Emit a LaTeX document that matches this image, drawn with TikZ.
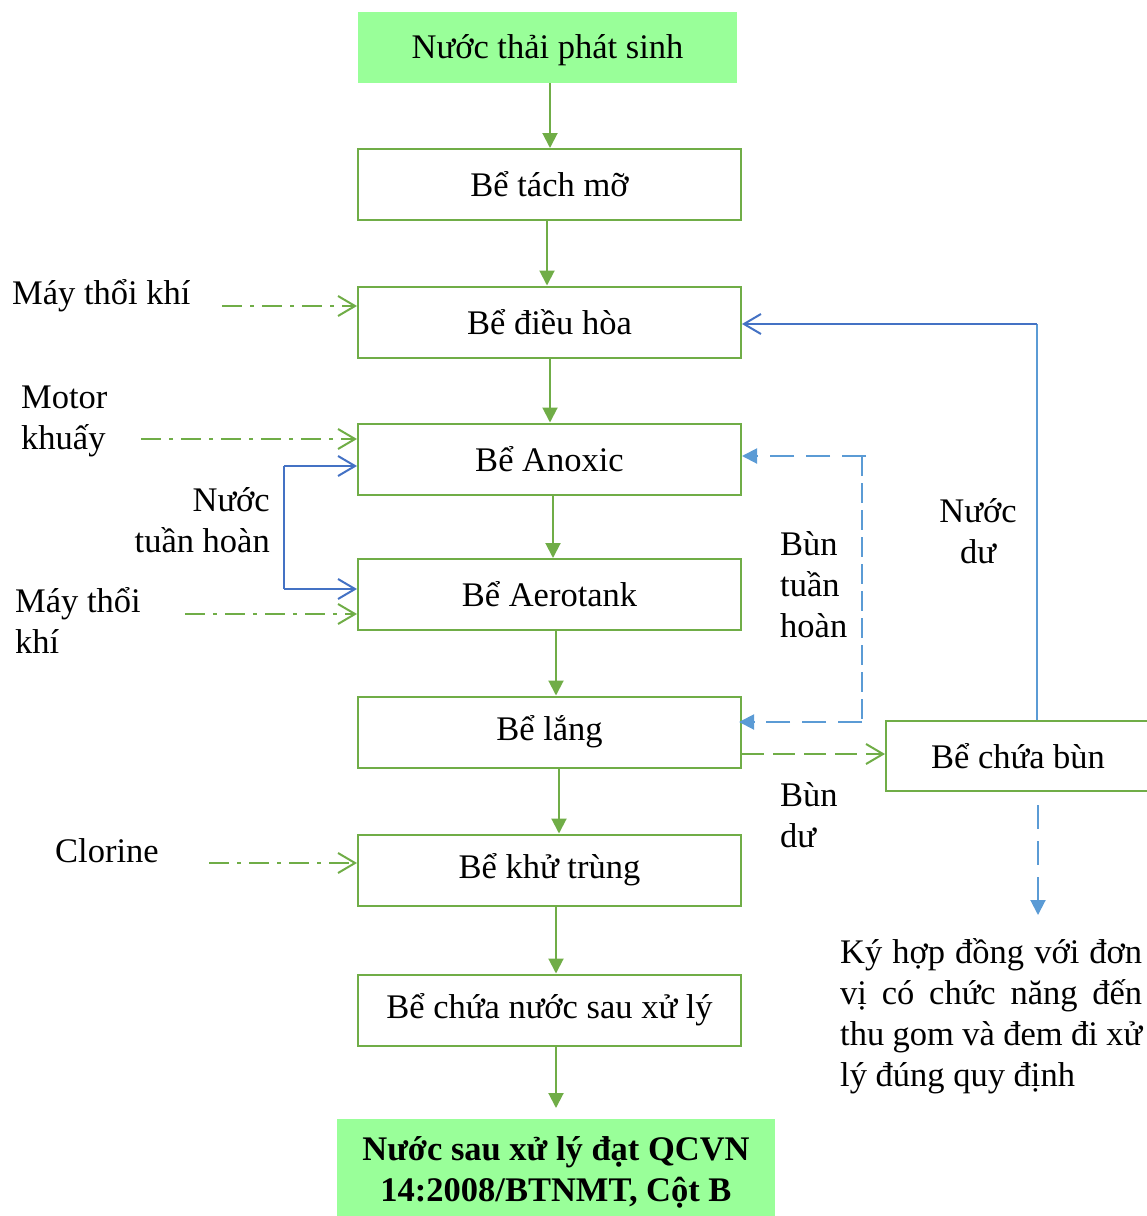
\documentclass[tikz,border=0pt]{standalone}
\usepackage{fontspec}
\setmainfont{Liberation Serif}
\usetikzlibrary{arrows.meta}
\definecolor{gr}{HTML}{70AD47}
\definecolor{lg}{HTML}{99FF99}
\definecolor{bl}{HTML}{4472C4}
\definecolor{lb}{HTML}{5B9BD5}
\begin{document}
\begin{tikzpicture}[x=1pt,y=-1pt,
  font=\fontsize{34.5}{41}\selectfont,
  box/.style={draw=gr,line width=2pt,minimum width=383pt,minimum height=71pt,inner sep=0pt},
  fillbox/.style={fill=lg,inner sep=0pt},
  lbl/.style={inner sep=0pt,align=left},
  flow/.style={draw=gr,line width=2pt,-{Triangle[length=15pt,width=15pt]}},
  feed/.style={draw=gr,line width=2pt,dash pattern=on 20pt off 8pt on 4pt off 8pt,-{Straight Barb[length=17pt,width=20pt,line width=2pt]}},
  recyc/.style={draw=bl,line width=2pt},
  recycarrow/.style={recyc,-{Straight Barb[length=17pt,width=20pt,line width=2pt]}},
  sludge/.style={draw=lb,line width=2pt,dash pattern=on 24pt off 12pt},
  sludgearrow/.style={sludge,-{Triangle[length=15pt,width=15pt]}},
]
\useasboundingbox (0,0) rectangle (1147,1216);

% boxes
\node[fillbox,minimum width=379pt,minimum height=71pt] (src) at (547.5,47.5) {};
\node[inner sep=0pt] (srctxt) at (547.5,50) {Nước thải phát sinh};
\node[box] (tach) at (549.5,184.5) {Bể tách mỡ};
\node[box] (dieuhoa) at (549.5,322) {Bể điều hòa};
\node[box] (anoxic) at (549.5,459) {Bể Anoxic};
\node[box] (aero) at (549.5,594.5) {Bể Aerotank};
\node[box] (lang) at (549.5,732) {Bể lắng};
\node[box] (khu) at (549.5,870) {Bể khử trùng};
\node[box] (chua) at (549.5,1010) {Bể chứa nước sau xử lý};
\node[fillbox,minimum width=438pt,minimum height=97pt] (out) at (556,1167.5) {};
\node[inner sep=0pt,align=center,font=\fontsize{34.5}{41}\selectfont\bfseries] (outtxt) at (556,1172) {Nước sau xử lý đạt QCVN\\14:2008/BTNMT, Cột B};
\node[box,minimum width=264pt,minimum height=70pt] (bun) at (1018,756) {Bể chứa bùn};

% labels
\node[lbl,anchor=west] (l1) at (12,296) {Máy thổi khí};
\node[lbl,anchor=west] (l2) at (21,421) {Motor\\khuấy};
\node[lbl,anchor=east,align=right] (l3) at (270,520) {Nước\\tuần hoàn};
\node[lbl,anchor=west] (l4) at (15,620) {Máy thổi\\khí};
\node[lbl,anchor=west] (l5) at (55,851) {Clorine};
\node[lbl,anchor=west] (l6) at (780,585) {Bùn\\tuần\\hoàn};
\node[lbl,align=center] (l7) at (978,531) {Nước\\dư};
\node[lbl,anchor=west] (l8) at (780,815) {Bùn\\dư};
\node[lbl,anchor=west] (l9) at (840,1016) {\makebox[302pt][s]{Ký hợp đồng với đơn}\\\makebox[302pt][s]{vị có chức năng đến}\\\makebox[302pt][s]{thu gom và đem đi xử}\\lý đúng quy định};

% main flow
\draw[flow] (src.south -| 550,0) -- (tach.north -| 550,0);
\draw[flow] (tach.south -| 547,0) -- (dieuhoa.north -| 547,0);
\draw[flow] (dieuhoa.south -| 550,0) -- (anoxic.north -| 550,0);
\draw[flow] (anoxic.south -| 553,0) -- (aero.north -| 553,0);
\draw[flow] (aero.south -| 556,0) -- (lang.north -| 556,0);
\draw[flow] (lang.south -| 559,0) -- (khu.north -| 559,0);
\draw[flow] (khu.south -| 556,0) -- (chua.north -| 556,0);
\coordinate (oe) at (556,1108);
\draw[flow] (chua.south -| oe) -- (oe);

% feeds
\coordinate (f1) at (222,306);
\coordinate (f2) at (141,439);
\coordinate (f3) at (185,614);
\coordinate (f4) at (209,863);
\draw[feed] (f1) -- (dieuhoa.west |- f1);
\draw[feed] (f2) -- (anoxic.west |- f2);
\draw[feed] (f3) -- (aero.west |- f3);
\draw[feed] (f4) -- (khu.west |- f4);

% internal recycle
\coordinate (r1) at (284,466);
\coordinate (r2) at (284,589);
\draw[recycarrow] (r1) -- (anoxic.west |- r1);
\draw[recyc,line width=1.5pt] (r1) -- (r2);
\draw[recycarrow] (r2) -- (aero.west |- r2);

% excess water
\coordinate (nd) at (1037,324);
\draw[draw=lb,line width=1.2pt] (bun.north -| nd) -- (nd);
\draw[recycarrow] (nd) -- (dieuhoa.east |- nd);

% sludge recycle
\coordinate (b1) at (866,456);
\coordinate (b2) at (862,456);
\coordinate (b3) at (862,722);
\draw[sludgearrow] (b1) -- (anoxic.east |- b1);
\draw[draw=lb,line width=1.2pt,dash pattern=on 20pt off 7pt] (b2) -- (b3);
\draw[sludgearrow] (b3) -- ([xshift=-3pt]lang.east |- b3);

% excess sludge
\coordinate (bd) at (800,754);
\draw[draw=gr,line width=2pt,dash pattern=on 22pt off 9pt,-{Straight Barb[length=17pt,width=20pt,line width=2pt]}] (lang.east |- bd) -- (bun.west |- bd);

% disposal
\coordinate (d1) at (1038,805);
\coordinate (d2) at (1038,915);
\draw[sludgearrow] (d1) -- (d2);
\end{tikzpicture}
\end{document}
